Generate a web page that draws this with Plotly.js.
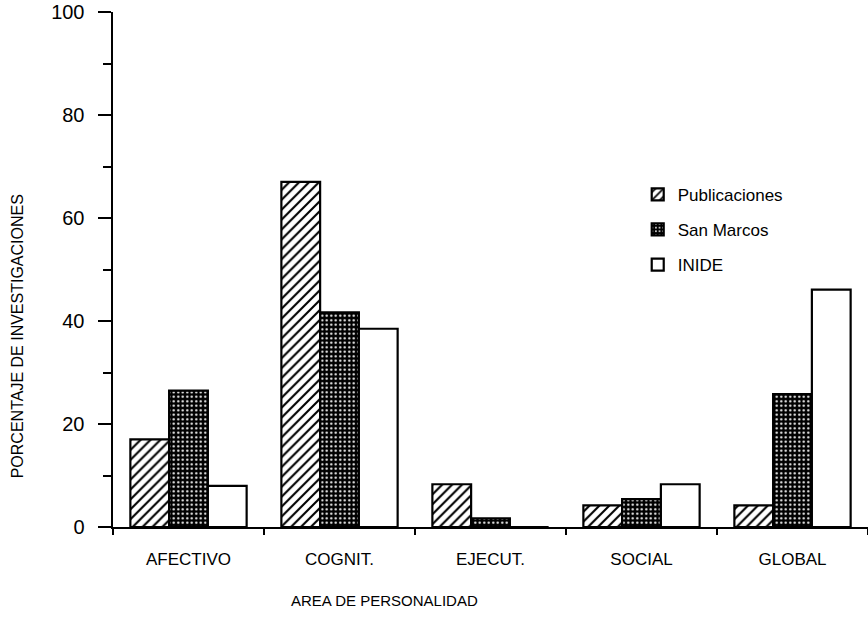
<!DOCTYPE html>
<html>
<head>
<meta charset="utf-8">
<script src="https://cdn.plot.ly/plotly-3.0.1.min.js"></script>
<style>html,body{margin:0;padding:0;background:#fff;}#chart{width:868px;height:631px;}</style>
</head>
<body>
<div id="chart"></div>
<script>
const categories = ["AFECTIVO", "COGNIT.", "EJECUT.", "SOCIAL", "GLOBAL"];
const seriesNames = ["Publicaciones", "San Marcos", "INIDE"];
const publicaciones = [17, 67, 8.3, 4.2, 4.2];
const sanMarcos = [26.5, 41.7, 1.7, 5.4, 25.8];
const inide = [8, 38.5, 0, 8.3, 46.1];
const yTicks = [0, 20, 40, 60, 80, 100];

const narrow = '"Liberation Sans Narrow", "Arial Narrow", "Liberation Sans", Arial, sans-serif';
const regular = '"Liberation Sans", Arial, sans-serif';

const line = {color: '#000', width: 2.2};
const traces = [
  {type: 'bar', name: seriesNames[0], x: categories, y: publicaciones, legendgroup: 'a',
   marker: {color: '#fff', line: line, pattern: {shape: '/', bgcolor: '#fff', fgcolor: '#000', size: 7, solidity: 0.3}}},
  {type: 'bar', name: seriesNames[1], x: categories, y: sanMarcos, legendgroup: 'b',
   marker: {color: '#000', line: line, pattern: {shape: '.', bgcolor: '#000', fgcolor: '#fff', size: 4.5, solidity: 0.2}}},
  {type: 'bar', name: seriesNames[2], x: categories, y: inide, legendgroup: 'c',
   marker: {color: '#fff', line: line}}
];

const layout = {
  width: 868, height: 631,
  margin: {l: 113, r: 0, t: 12, b: 104},
  paper_bgcolor: '#fff', plot_bgcolor: '#fff',
  barmode: 'group', bargap: 0.23, bargroupgap: 0,
  showlegend: true,
  legend: {x: 0.695, y: 0.68, xanchor: 'left', yanchor: 'top', traceorder: 'grouped', tracegroupgap: 10,
           font: {family: narrow, size: 17, color: '#000'}, bgcolor: 'rgba(0,0,0,0)'},
  xaxis: {type: 'category', range: [-0.5, 4.5], showline: true, linecolor: '#000', linewidth: 2,
          ticks: 'outside', tickson: 'boundaries', ticklen: 6, tickwidth: 2, tickcolor: '#000',
          showgrid: false, zeroline: false, ticklabelstandoff: 16,
          tickfont: {family: narrow, size: 17, color: '#000'}},
  yaxis: {range: [0, 100], showline: true, linecolor: '#000', linewidth: 2.5,
          tickvals: yTicks, ticktext: yTicks.map(String), ticklabeloverflow: 'allow',
          ticks: 'outside', ticklen: 13, tickwidth: 2.5, tickcolor: '#000',
          minor: {ticks: 'outside', ticklen: 8, tickwidth: 2, tickcolor: '#000', dtick: 10, showgrid: false},
          showgrid: false, zeroline: false, ticklabelstandoff: 9,
          tickfont: {family: regular, size: 20, color: '#000'}},
  annotations: [
    {text: 'AREA DE PERSONALIDAD', xref: 'paper', yref: 'paper', x: 0.36, y: -0.143,
     xanchor: 'center', yanchor: 'middle', showarrow: false, font: {family: narrow, size: 15, color: '#000'}},
    {text: 'PORCENTAJE DE INVESTIGACIONES', xref: 'paper', yref: 'paper', x: -0.126, y: 0.37,
     xanchor: 'center', yanchor: 'middle', textangle: -90, showarrow: false, font: {family: narrow, size: 16, color: '#000'}}
  ]
};

Plotly.newPlot('chart', traces, layout, {displayModeBar: false, staticPlot: true});
</script>
</body>
</html>
